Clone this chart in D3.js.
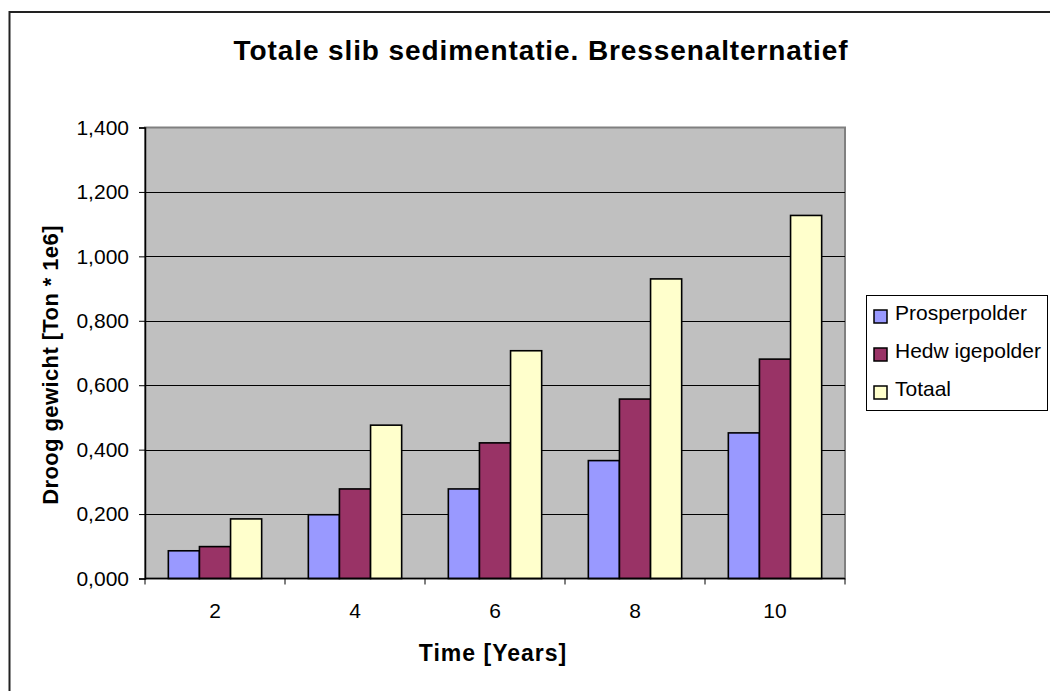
<!DOCTYPE html>
<html>
<head>
<meta charset="utf-8">
<script src="https://cdn.jsdelivr.net/npm/d3@7"></script>
<style>
  html, body { margin: 0; padding: 0; background: #fff; }
  svg { display: block; font-family: Arial, "Liberation Sans", sans-serif; }
</style>
</head>
<body>
<svg id="chart" width="1050" height="691"></svg>
<script>
// Sediment deposition per polder over time
const categories = ["2", "4", "6", "8", "10"];
const seriesNames = ["Prosperpolder", "Hedw igepolder", "Totaal"];
const prosperpolder = [0.086, 0.198, 0.278, 0.366, 0.452];
const hedwigepolder = [0.099, 0.278, 0.421, 0.557, 0.681];
const totaal = [0.185, 0.476, 0.707, 0.930, 1.127];
const yTickValues = [0, 0.2, 0.4, 0.6, 0.8, 1.0, 1.2, 1.4];
const yTickLabels = ["0,000", "0,200", "0,400", "0,600", "0,800", "1,000", "1,200", "1,400"];
const seriesColors = ["#9999FF", "#993366", "#FFFFCC"];

const seriesValues = [prosperpolder, hedwigepolder, totaal];

const svg = d3.select("#chart");

// outer chart frame
svg.append("rect")
  .attr("x", 9.5).attr("y", 12)
  .attr("width", 1100).attr("height", 720)
  .attr("fill", "#fff")
  .attr("stroke", "#222").attr("stroke-width", 2);

const plot = { left: 145, right: 845, top: 127.5, bottom: 578.5 };

const x = d3.scaleBand()
  .domain(categories)
  .range([plot.left, plot.right])
  .paddingInner(0).paddingOuter(0);

// 150% gap width: three bars plus 1.5 bar widths of gap per category
const barW = x.bandwidth() / 4.5;
const xSeries = d3.scaleBand()
  .domain(d3.range(seriesNames.length))
  .range([barW * 0.75, barW * 0.75 + barW * 3])
  .padding(0);

const y = d3.scaleLinear()
  .domain([0, 1.4])
  .range([plot.bottom, plot.top]);

// plot area background
svg.append("rect")
  .attr("x", plot.left).attr("y", plot.top)
  .attr("width", plot.right - plot.left)
  .attr("height", plot.bottom - plot.top)
  .attr("fill", "#C0C0C0")
  .attr("stroke", "#808080").attr("stroke-width", 2);

// horizontal gridlines
svg.append("g")
  .selectAll("line")
  .data(yTickValues.filter(v => v > 0 && v < 1.4))
  .join("line")
  .attr("x1", plot.left).attr("x2", plot.right)
  .attr("y1", d => Math.round(y(d)) + 0.5)
  .attr("y2", d => Math.round(y(d)) + 0.5)
  .attr("stroke", "#000").attr("stroke-width", 1);

// bars
const groups = svg.append("g")
  .selectAll("g")
  .data(categories)
  .join("g")
  .attr("transform", c => `translate(${x(c)},0)`);

groups.selectAll("rect")
  .data((c, i) => seriesValues.map((vals, s) => ({ s, v: vals[i] })))
  .join("rect")
  .attr("x", d => xSeries(d.s))
  .attr("width", xSeries.bandwidth())
  .attr("y", d => y(d.v))
  .attr("height", d => y(0) - y(d.v))
  .attr("fill", d => seriesColors[d.s])
  .attr("stroke", "#000")
  .attr("stroke-width", 1.6);

// y axis
const yAxis = d3.axisLeft(y)
  .tickValues(yTickValues)
  .tickFormat((d, i) => yTickLabels[i])
  .tickSize(6)
  .tickPadding(10);

const yg = svg.append("g")
  .attr("transform", `translate(${plot.left},0)`)
  .call(yAxis);
yg.select(".domain").attr("stroke", "#000").attr("stroke-width", 1.5);
yg.selectAll(".tick line").attr("stroke", "#000");
yg.selectAll(".tick text")
  .attr("font-size", 21).attr("fill", "#000")
  .attr("font-family", "Arial, 'Liberation Sans', sans-serif");

// x axis: ticks at category boundaries, labels at category centres
const xg = svg.append("g")
  .attr("transform", `translate(0,${plot.bottom})`);
xg.append("line")
  .attr("x1", plot.left).attr("x2", plot.right)
  .attr("y1", 0).attr("y2", 0)
  .attr("stroke", "#000").attr("stroke-width", 1.5);
const boundaries = categories.map(c => x(c)).concat([x(categories[categories.length - 1]) + x.bandwidth()]);
xg.selectAll("line.tk")
  .data(boundaries)
  .join("line")
  .attr("class", "tk")
  .attr("x1", d => d).attr("x2", d => d)
  .attr("y1", 0).attr("y2", 6)
  .attr("stroke", "#000");
xg.selectAll("text")
  .data(categories)
  .join("text")
  .attr("x", c => x(c) + x.bandwidth() / 2)
  .attr("y", 39)
  .attr("text-anchor", "middle")
  .attr("font-size", 21)
  .attr("fill", "#000")
  .text(c => c);

// titles
svg.append("text")
  .attr("x", 541).attr("y", 60)
  .attr("text-anchor", "middle")
  .attr("font-size", 28).attr("font-weight", "bold")
  .attr("letter-spacing", 0.9)
  .text("Totale slib sedimentatie. Bressenalternatief");

svg.append("text")
  .attr("x", 493).attr("y", 661)
  .attr("text-anchor", "middle")
  .attr("font-size", 23).attr("font-weight", "bold")
  .attr("letter-spacing", 1)
  .text("Time [Years]");

svg.append("text")
  .attr("transform", "translate(58,365) rotate(-90)")
  .attr("text-anchor", "middle")
  .attr("font-size", 22).attr("font-weight", "bold")
  .attr("letter-spacing", 0.4)
  .text("Droog gewicht [Ton * 1e6]");

// legend
const legend = svg.append("g");
legend.append("rect")
  .attr("x", 866.5).attr("y", 295.5)
  .attr("width", 181).attr("height", 115)
  .attr("fill", "#fff")
  .attr("stroke", "#000").attr("stroke-width", 1);

const rows = legend.selectAll("g")
  .data(seriesNames)
  .join("g")
  .attr("transform", (d, i) => `translate(0,${320 + i * 38})`);
rows.append("rect")
  .attr("x", 874).attr("y", -10)
  .attr("width", 13).attr("height", 13)
  .attr("fill", (d, i) => seriesColors[i])
  .attr("stroke", "#000").attr("stroke-width", 1.5);
rows.append("text")
  .attr("x", 895).attr("y", 0)
  .attr("font-size", 21)
  .attr("fill", "#000")
  .text(d => d);
</script>
</body>
</html>
